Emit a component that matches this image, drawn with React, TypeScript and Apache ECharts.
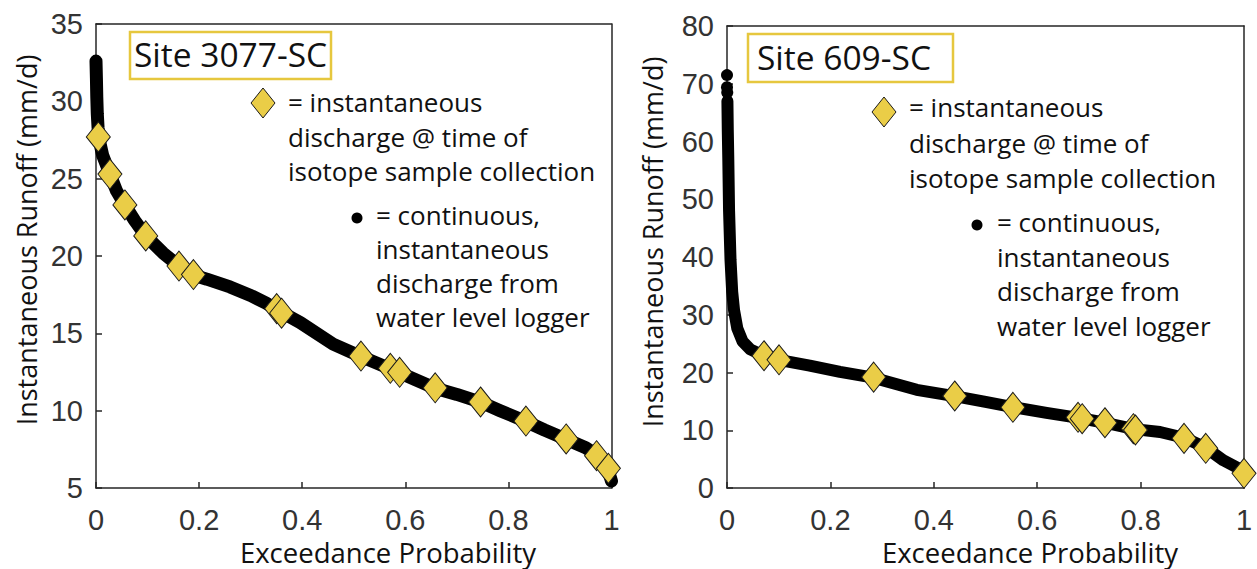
import React, { useEffect, useRef } from "react";
import * as echarts from "echarts";

// ---------- data ----------
const xTickValues = [0, 0.2, 0.4, 0.6, 0.8, 1];
const leftYTicks = [5, 10, 15, 20, 25, 30, 35];
const rightYTicks = [0, 10, 20, 30, 40, 50, 60, 70, 80];

// Site 3077-SC: continuous logger discharge (exceedance prob., mm/d)
const leftContinuous: [number, number][] = [
  [0.0, 32.6], [0.0008, 31.5], [0.0015, 30.3], [0.0025, 29.2], [0.004, 28.3],
  [0.007, 27.4], [0.013, 26.5], [0.02, 25.9], [0.027, 25.3], [0.04, 24.2],
  [0.056, 23.3], [0.075, 22.3], [0.0965, 21.3], [0.13, 20.2], [0.161, 19.35],
  [0.19, 18.75], [0.215, 18.5], [0.26, 18.0], [0.3, 17.45], [0.33, 16.95],
  [0.355, 16.45], [0.396, 15.7], [0.46, 14.3], [0.514, 13.5], [0.55, 13.0],
  [0.589, 12.45], [0.62, 12.0], [0.658, 11.45], [0.7, 11.05], [0.746, 10.55],
  [0.784, 10.0], [0.834, 9.3], [0.87, 8.75], [0.912, 8.15], [0.95, 7.6],
  [0.971, 7.15], [0.985, 6.6], [0.994, 6.1], [1.0, 5.45],
];
// Site 3077-SC: discharge at time of isotope sampling
const leftSamples: [number, number][] = [
  [0.0045, 27.7], [0.027, 25.3], [0.056, 23.3], [0.0965, 21.3], [0.161, 19.35],
  [0.189, 18.8], [0.3505, 16.6], [0.36, 16.3], [0.514, 13.53], [0.571, 12.74],
  [0.589, 12.48], [0.658, 11.48], [0.746, 10.56], [0.834, 9.33], [0.912, 8.17],
  [0.971, 7.09], [0.994, 6.27],
];

// Site 609-SC: isolated highest logger readings
const rightPeakDots: [number, number][] = [[0.0, 71.5], [0.0, 69.4], [0.0005, 68.5]];
// Site 609-SC: continuous logger discharge
const rightContinuous: [number, number][] = [
  [0.0008, 67.0], [0.0015, 62.0], [0.0025, 57.0], [0.004, 48.0], [0.0068, 39.5],
  [0.01, 34.0], [0.0136, 30.8], [0.02, 27.6], [0.03, 25.4], [0.045, 24.0],
  [0.0716, 22.9], [0.1, 22.2], [0.16, 21.2], [0.2186, 20.1], [0.283, 19.1],
  [0.367, 17.0], [0.44, 15.9], [0.5, 14.9], [0.553, 14.0], [0.618, 13.0],
  [0.683, 12.1], [0.731, 11.3], [0.788, 10.2], [0.8375, 9.7], [0.884, 8.7],
  [0.926, 7.0], [0.96, 4.8], [0.992, 3.3], [1.0, 3.0],
];
// Site 609-SC: discharge at time of isotope sampling
const rightSamples: [number, number][] = [
  [0.0716, 22.9], [0.1006, 22.2], [0.2836, 19.2], [0.4405, 15.93], [0.553, 13.97],
  [0.679, 12.24], [0.687, 12.0], [0.731, 11.3], [0.786, 10.27], [0.79, 10.04],
  [0.884, 8.6], [0.926, 6.87], [1.0, 2.54],
];

const siteNames = ["Site 3077-SC", "Site 609-SC"];
const xTitle = "Exceedance Probability";
const yTitle = "Instantaneous Runoff (mm/d)";
const legendSampleLines = ["= instantaneous", "discharge @ time of", "isotope sample collection"];
const legendLoggerLines = ["= continuous,", "instantaneous", "discharge from", "water level logger"];

// ---------- styles ----------
const AXIS = "#262626";
const GOLD = "#EACD47";
const BOX = "#E6C73E";
const TEXT_FONT = "'Open Sans', 'Noto Sans', sans-serif";
const TICK_FONT = "'Liberation Sans', Arial, sans-serif";

function bottomAxis(gridIndex: number) {
  return {
    type: "value",
    gridIndex,
    position: "bottom",
    min: xTickValues[0],
    max: xTickValues[xTickValues.length - 1],
    interval: xTickValues[1] - xTickValues[0],
    axisLine: { show: true, onZero: false, lineStyle: { color: AXIS, width: 1.5 } },
    axisTick: { show: true, inside: true, length: 6, lineStyle: { color: AXIS, width: 1.5 } },
    axisLabel: { margin: 20, fontSize: 29, lineHeight: 24, color: "#333", fontFamily: TICK_FONT },
    splitLine: { show: false },
  };
}
function topAxis(gridIndex: number) {
  return {
    type: "value",
    gridIndex,
    position: "top",
    min: xTickValues[0],
    max: xTickValues[xTickValues.length - 1],
    axisLine: { show: true, onZero: false, lineStyle: { color: AXIS, width: 1.5 } },
    axisTick: { show: false },
    axisLabel: { show: false },
    splitLine: { show: false },
  };
}
function leftAxis(gridIndex: number, ticks: number[]) {
  return {
    type: "value",
    gridIndex,
    position: "left",
    min: ticks[0],
    max: ticks[ticks.length - 1],
    interval: ticks[1] - ticks[0],
    axisLine: { show: true, onZero: false, lineStyle: { color: AXIS, width: 1.5 } },
    axisTick: { show: true, inside: true, length: 6, lineStyle: { color: AXIS, width: 1.5 } },
    axisLabel: { margin: 13, fontSize: 29, lineHeight: 26, color: "#333", fontFamily: TICK_FONT },
    splitLine: { show: false },
  };
}
function rightAxis(gridIndex: number, ticks: number[]) {
  return {
    type: "value",
    gridIndex,
    position: "right",
    min: ticks[0],
    max: ticks[ticks.length - 1],
    axisLine: { show: true, onZero: false, lineStyle: { color: AXIS, width: 1.5 } },
    axisTick: { show: false },
    axisLabel: { show: false },
    splitLine: { show: false },
  };
}

function textEl(text: string, x: number, y: number, size: number, extra: any = {}) {
  return {
    type: "text",
    x,
    y,
    silent: true,
    z: 10,
    style: {
      text,
      fontSize: size,
      fontFamily: TEXT_FONT,
      fill: "#111",
      textAlign: "left",
      textVerticalAlign: "middle",
      ...extra,
    },
  };
}

function diamond(cx: number, cy: number) {
  return {
    type: "polygon",
    z: 10,
    shape: { points: [[cx, cy - 15], [cx + 12, cy], [cx, cy + 15], [cx - 12, cy]] },
    style: { fill: GOLD, stroke: "#1a1a1a", lineWidth: 1 },
  };
}

const option: any = {
  animation: false,
  backgroundColor: "#ffffff",
  textStyle: { fontFamily: TICK_FONT },
  grid: [
    { left: 96, top: 24, width: 515.5, height: 464 },
    { left: 727, top: 26, width: 517, height: 462 },
  ],
  xAxis: [bottomAxis(0), topAxis(0), bottomAxis(1), topAxis(1)],
  yAxis: [leftAxis(0, leftYTicks), rightAxis(0, leftYTicks), leftAxis(1, rightYTicks), rightAxis(1, rightYTicks)],
  series: [
    {
      type: "line",
      xAxisIndex: 0,
      yAxisIndex: 0,
      data: leftContinuous,
      showSymbol: false,
      clip: false,
      lineStyle: { color: "#000", width: 13, cap: "round", join: "round" },
      z: 2,
    },
    {
      type: "scatter",
      xAxisIndex: 0,
      yAxisIndex: 0,
      data: leftSamples,
      symbol: "diamond",
      symbolSize: [24, 30],
      clip: false,
      itemStyle: { color: GOLD, borderColor: "#1a1a1a", borderWidth: 1, opacity: 1 },
      z: 3,
    },
    {
      type: "scatter",
      xAxisIndex: 2,
      yAxisIndex: 2,
      data: rightPeakDots,
      symbol: "circle",
      symbolSize: 12,
      clip: false,
      itemStyle: { color: "#000", opacity: 1 },
      z: 2,
    },
    {
      type: "line",
      xAxisIndex: 2,
      yAxisIndex: 2,
      data: rightContinuous,
      showSymbol: false,
      clip: false,
      lineStyle: { color: "#000", width: 12, cap: "round", join: "round" },
      z: 2,
    },
    {
      type: "scatter",
      xAxisIndex: 2,
      yAxisIndex: 2,
      data: rightSamples,
      symbol: "diamond",
      symbolSize: [24, 30],
      clip: false,
      itemStyle: { color: GOLD, borderColor: "#1a1a1a", borderWidth: 1, opacity: 1 },
      z: 3,
    },
  ],
  graphic: [
    // title boxes
    { type: "rect", z: 9, shape: { x: 130, y: 32, width: 201, height: 47 }, style: { fill: "#fff", stroke: BOX, lineWidth: 2.5 } },
    textEl(siteNames[0], 134, 54, 33.5),
    { type: "rect", z: 9, shape: { x: 748, y: 34, width: 205, height: 48 }, style: { fill: "#fff", stroke: BOX, lineWidth: 2.5 } },
    textEl(siteNames[1], 757, 57, 33.5),
    // legend, left panel
    diamond(263, 103),
    textEl(legendSampleLines.join("\n"), 288, 85, 26, { textVerticalAlign: "top", lineHeight: 34.5 }),
    { type: "circle", z: 10, shape: { cx: 357, cy: 218, r: 5.5 }, style: { fill: "#000" } },
    textEl(legendLoggerLines.join("\n"), 376, 198, 26, { textVerticalAlign: "top", lineHeight: 34 }),
    // legend, right panel
    diamond(884, 112),
    textEl(legendSampleLines.join("\n"), 909, 89.5, 26, { textVerticalAlign: "top", lineHeight: 35.5 }),
    { type: "circle", z: 10, shape: { cx: 977, cy: 225, r: 5.5 }, style: { fill: "#000" } },
    textEl(legendLoggerLines.join("\n"), 997, 205, 26, { textVerticalAlign: "top", lineHeight: 34.5 }),
    // axis titles
    textEl(xTitle, 388, 552, 27.5, { textAlign: "center", lineHeight: 28 }),
    textEl(xTitle, 1030, 552, 27.5, { textAlign: "center", lineHeight: 28 }),
    { ...textEl(yTitle, 26, 240, 27, { textAlign: "center" }), rotation: Math.PI / 2 },
    { ...textEl(yTitle, 652, 242, 27, { textAlign: "center" }), rotation: Math.PI / 2 },
  ],
};

export default function App() {
  const ref = useRef<HTMLDivElement>(null);
  useEffect(() => {
    if (!ref.current) return;
    const chart = echarts.init(ref.current, null, { renderer: "svg" });
    chart.setOption(option);
    return () => chart.dispose();
  }, []);
  return (
    <div
      ref={ref}
      style={{ position: "absolute", left: 0, top: 0, width: 1257, height: 569, background: "#fff" }}
    />
  );
}
